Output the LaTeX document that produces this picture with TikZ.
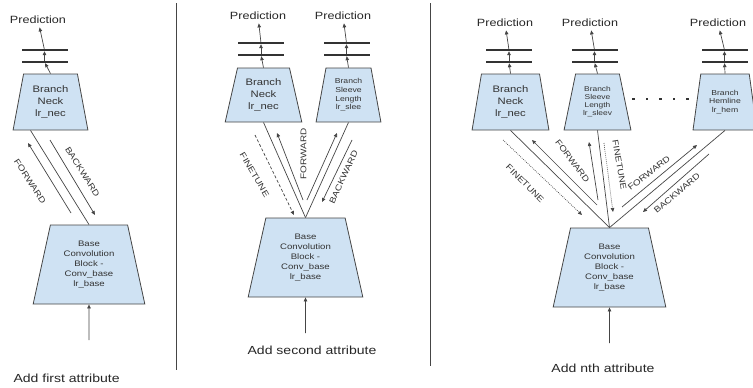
\documentclass[tikz,border=0pt]{standalone}
\usepackage{fontspec}
\setmainfont{Liberation Sans}[FakeStretch=1.2]
\usetikzlibrary{arrows.meta}
\usetikzlibrary{shapes.geometric}

\definecolor{blockfill}{HTML}{CFE2F3}
\definecolor{edge}{HTML}{454545}

\begin{document}
\begin{tikzpicture}[x=1pt, y=-1pt,
    block/.style={trapezium, trapezium angle=77, trapezium stretches=true, draw=edge, fill=blockfill,
      line width=0.8pt, inner sep=0pt, align=center, text=black!80},
    bar/.style={fill=black!80, inner sep=0pt, minimum height=2pt, minimum width=46pt},
    flow/.style={draw=edge, line width=0.7pt, -{Triangle[length=4pt, width=3.5pt]}},
    link/.style={draw=edge, line width=0.7pt},
    pred/.style={font=\fontsize{10.5}{12}\selectfont, text=black!85},
    caption/.style={font=\fontsize{11.7}{13}\selectfont, text=black!85},
    tag/.style={font=\fontsize{8.3}{9}\selectfont, inner sep=0pt, text=black!80},
    neckfont/.style={font=\fontsize{9.4}{12}\selectfont},
    basefont/.style={font=\fontsize{8}{10}\selectfont},
    smallfont/.style={font=\fontsize{7.2}{8.6}\selectfont},
  ]
  \useasboundingbox (0,0) rectangle (753,388);

  % first attribute
  \node[block, neckfont, minimum width=75pt, minimum height=56pt, trapezium angle=78] (neck1) at (50.5,102) {Branch\\Neck\\lr\_nec};
  \node[block, basefont, minimum width=112pt, minimum height=79pt, trapezium angle=76.5] (base1) at (89,264.5) {Base\\Convolution\\Block -\\Conv\_base\\lr\_base};
  \node[bar] (bar1a) at (44.5,62) {};
  \node[bar] (bar1b) at (44.5,50) {};
  \node[pred] (pred1) at (38,20) {Prediction};
  \coordinate (in1) at (89,340);

  \draw[flow] (neck1.north) -- (bar1a);
  \draw[flow] (bar1a) -- (bar1b);
  \draw[flow] (bar1b) -- (pred1);
  \draw[link] ([xshift=-20pt]neck1.south) -- (base1.north);
  \draw[flow] (71,213) -- (28,143);
  \draw[flow] (50,140) -- (95,215);
  \node[tag, rotate=-57] (fwd1) at (30,181.5) {FORWARD};
  \node[tag, rotate=-58] (bwd1) at (82.5,172) {BACKWARD};
  \draw[flow] (in1) -- (base1.south);
  \node[caption, anchor=west] (cap1) at (10,378) {Add first attribute};

  \draw[edge, line width=0.8pt] (176,3) -- (176,370);

  % second attribute
  \node[block, neckfont, minimum width=77pt, minimum height=54pt, trapezium angle=75.5] (neck2) at (263.5,95) {Branch\\Neck\\lr\_nec};
  \node[block, smallfont, minimum width=65pt, minimum height=54pt, trapezium angle=79.5] (sleeve2) at (348.5,95) {Branch\\Sleeve\\Length\\lr\_slee};
  \node[block, basefont, minimum width=115pt, minimum height=79pt, trapezium angle=76.5] (base2) at (305.5,257.5) {Base\\Convolution\\Block -\\Conv\_base\\lr\_base};
  \node[bar] (bar2a) at (261,55) {};
  \node[bar] (bar2b) at (261,43) {};
  \node[bar] (bar3a) at (346.5,55) {};
  \node[bar] (bar3b) at (346.5,43) {};
  \node[pred] (pred2) at (258,16) {Prediction};
  \node[pred] (pred3) at (343,16) {Prediction};
  \coordinate (in2) at (305.5,333);

  \draw[flow] (neck2.north) -- (bar2a);
  \draw[flow] (bar2a) -- (bar2b);
  \draw[flow] (bar2b) -- (pred2);
  \draw[flow] (sleeve2.north) -- (bar3a);
  \draw[flow] (bar3a) -- (bar3b);
  \draw[flow] (bar3b) -- (pred3);
  \draw[link] (base2.north) -- (neck2.south);
  \draw[link] (base2.north) -- (sleeve2.south);
  \draw[flow, dash pattern=on 3pt off 2pt] (255,135) -- (294,215);
  \draw[flow] (303,200) -- (277,133);
  \draw[flow] (307,200) -- (337,133);
  \draw[flow] (352,140) -- (322,202);
  \node[tag, rotate=-59.5] (fine2) at (254.5,175) {FINETUNE};
  \node[tag, rotate=90] (fwd2) at (303.5,154) {FORWARD};
  \node[tag, rotate=65] (bwd2) at (343.5,177) {BACKWARD};
  \draw[flow] (in2) -- (base2.south);
  \node[caption] (cap2) at (312,350) {Add second attribute};

  \draw[edge, line width=0.8pt] (430,3) -- (430,366);

  % nth attribute
  \node[block, neckfont, minimum width=77pt, minimum height=56pt, trapezium angle=80] (neck3) at (510.5,102) {Branch\\Neck\\lr\_nec};
  \node[block, font=\fontsize{7}{8}\selectfont, minimum width=67pt, minimum height=56pt, trapezium angle=76] (sleeve3) at (597.5,102) {Branch\\Sleeve\\Length\\lr\_sleev};
  \node[block, smallfont, minimum width=64pt, minimum height=56pt, trapezium angle=78] (hem3) at (725,102) {Branch\\Hemline\\lr\_hem};
  \node[block, basefont, minimum width=113pt, minimum height=79pt, trapezium angle=76.5] (base3) at (609.5,267.5) {Base\\Convolution\\Block -\\Conv\_base\\lr\_base};
  \node[bar] (bar4a) at (509,62) {};
  \node[bar] (bar4b) at (509,50) {};
  \node[bar] (bar5a) at (594.5,62) {};
  \node[bar] (bar5b) at (594.5,50) {};
  \node[bar] (bar6a) at (724.5,62) {};
  \node[bar] (bar6b) at (724.5,50) {};
  \node[pred] (pred4) at (505,23) {Prediction};
  \node[pred] (pred5) at (590,23) {Prediction};
  \node[pred] (pred6) at (718,23) {Prediction};
  \coordinate (in3) at (609.5,343);

  \draw[flow] (neck3.north) -- (bar4a);
  \draw[flow] (bar4a) -- (bar4b);
  \draw[flow] (bar4b) -- (pred4);
  \draw[flow] (sleeve3.north) -- (bar5a);
  \draw[flow] (bar5a) -- (bar5b);
  \draw[flow] (bar5b) -- (pred5);
  \draw[flow] (hem3.north) -- (bar6a);
  \draw[flow] (bar6a) -- (bar6b);
  \draw[flow] (bar6b) -- (pred6);
  \foreach \i in {0,...,4}
    \fill[black!80] (632+13.5*\i,97.5) rectangle ++(2.6,2.6);
  \draw[link] (base3.north) -- (neck3.south);
  \draw[link] (base3.north) -- (sleeve3.south);
  \draw[link] (base3.north) -- (hem3.south);
  \draw[flow, dash pattern=on 0.8pt off 1.2pt] (503,140) -- (582,215);
  \draw[flow] (597,205) -- (532,140);
  \draw[flow] (598,200) -- (589,142);
  \draw[flow, dash pattern=on 0.8pt off 1.2pt] (604,143) -- (613,212);
  \draw[flow] (622,207) -- (697,145);
  \draw[flow] (709,154) -- (643,212);
  \node[tag, rotate=-45] (fine3) at (525,183.5) {FINETUNE};
  \node[tag, rotate=-53] (fwd3) at (572.5,161) {FORWARD};
  \node[tag, rotate=-80] (fine4) at (619.5,165) {FINETUNE};
  \node[tag, rotate=38] (fwd4) at (649,173) {FORWARD};
  \node[tag, rotate=40] (bwd3) at (677,193) {BACKWARD};
  \draw[flow] (in3) -- (base3.south);
  \node[caption] (cap3) at (603,368) {Add nth attribute};
\end{tikzpicture}
\end{document}
